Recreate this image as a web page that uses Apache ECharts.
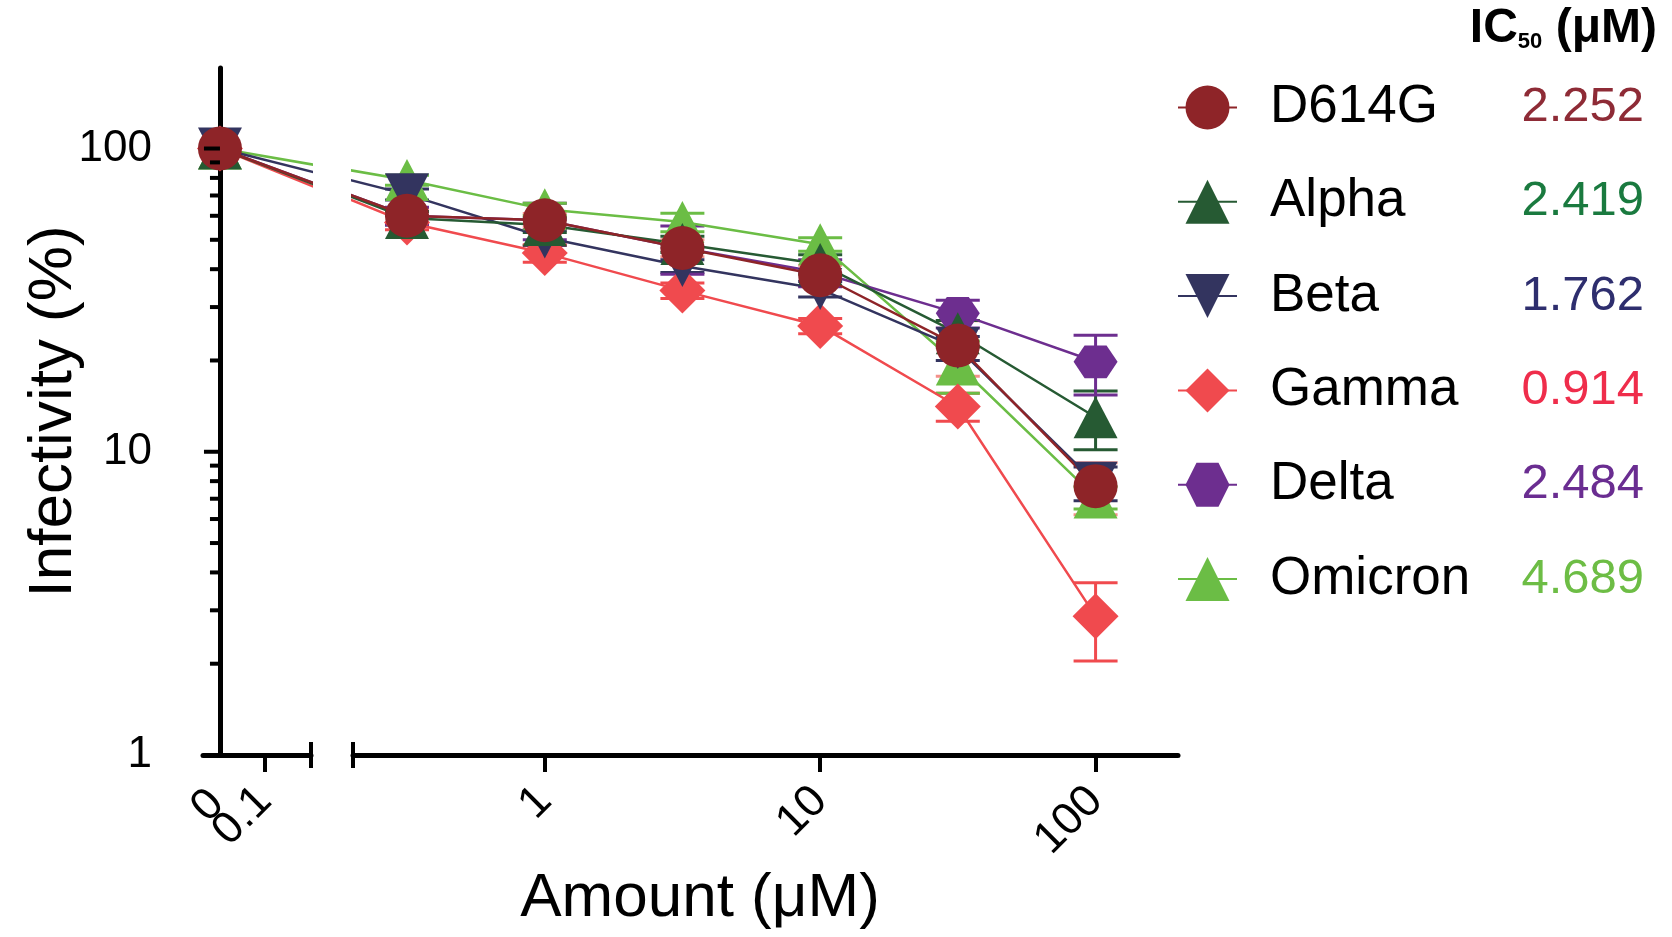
<!DOCTYPE html>
<html>
<head>
<meta charset="utf-8">
<title>Infectivity vs amount</title>
<script src="https://cdn.jsdelivr.net/npm/echarts@6/dist/echarts.min.js"></script>
<style>
html, body { margin: 0; padding: 0; background: #fff; }
#chart { width: 1672px; height: 937px; }
</style>
</head>
<body>
<div id="chart"></div>
<script>
// doses in uM, 0 is the untreated control shown on its own axis segment
var doses = [0, 0.316, 1, 3.16, 10, 31.6, 100];
var variants = ['D614G', 'Alpha', 'Beta', 'Gamma', 'Delta', 'Omicron'];
var ic50 = ['2.252', '2.419', '1.762', '0.914', '2.484', '4.689'];

// infectivity (%) per dose
var d614g   = [100, 60, 58, 47, 38.2, 22.4, 7.7];
var alpha   = [100, 59, 55.9, 48.4, 41.6, 24.6, 13];
var beta    = [100, 70.6, 50.9, 41, 34.4, 22, 7.9];
var gamma   = [100, 57, 45.2, 34, 26, 14.1, 2.87];
var delta   = [100, 60, 58, 47, 39, 28.6, 19.8];
var omicron = [100, 78.7, 63, 57.2, 48.3, 19.4, 7.07];

// SD per dose
var d614gErr   = [0, 3, 3, 3, 3, 4.65, 1.5];
var alphaErr   = [0, 3, 3, 3, 3, 2.5, 2.85];
var betaErr    = [0, 3, 3, 2, 2, 2, 1];
var gammaErr   = [0, 3, 3, 2, 1.5, 1.5, 0.83];
var deltaErr   = [0, 4, 8, 8.5, 4, 3, 4.4];
var omicronErr = [0, 3, 3, 4, 2.5, 3.8, 0.6];

var yTicks = [1, 10, 100];
var yMinorTicks = [2, 3, 4, 5, 6, 7, 8, 9, 20, 30, 40, 50, 60, 70, 80, 90];
var xTicks = [1, 10, 100];

var values = [d614g, alpha, beta, gamma, delta, omicron];
var errors = [d614gErr, alphaErr, betaErr, gammaErr, deltaErr, omicronErr];
var colors = ['#8e2428', '#265a33', '#33345f', '#f04a4e', '#6d2e8f', '#6bbd45'];
var errColors = ['#f4908a', '#265a33', '#33345f', '#f04a4e', '#6d2e8f', '#6bbd45'];
var textColors = ['#8e2b36', '#1a7a3f', '#2e2e6e', '#ef2d4b', '#6a2d91', '#6dbd45'];
var HEX = 'path://M0,19 L11,0 L33,0 L44,19 L33,38 L11,38 Z';
var symbols = ['circle', 'triangle', 'triangle', 'diamond', HEX, 'triangle'];
var symbolSizes = [44, [44, 42], [44, 42], [46, 46], [44, 38], [44, 42]];
var symbolRotates = [0, 0, 180, 0, 0, 0];

var FONT = 'Liberation Sans, Arial, Helvetica, sans-serif';
var ZERO_POS = 0.0688;     // where the 0 dose sits on the left log segment
var Y_MAX = 184.3;
var LEFT_MIN = 0.0597, LEFT_MAX = 0.1473;
var RIGHT_MIN = 0.2012, RIGHT_MAX = 199.2;
var X_LABEL_MARGIN = 39, X_LABEL_PAD = 41, X_LABEL_SIZE = 45;

function pts(vals, from, to) {
  var out = [];
  for (var i = from; i < to; i++) {
    out.push([doses[i] === 0 ? ZERO_POS : doses[i], vals[i]]);
  }
  return out;
}

var series = [];

// error bars under the markers
for (var k = 0; k < variants.length; k++) {
  var edata = [];
  for (var i = 1; i < doses.length; i++) {
    edata.push([doses[i], values[k][i], errors[k][i]]);
  }
  series.push({
    name: variants[k] + ' SD',
    type: 'custom',
    xAxisIndex: 1,
    yAxisIndex: 1,
    data: edata,
    silent: true,
    renderItem: (function (col) {
      return function (params, api) {
        var x = api.value(0), y = api.value(1), e = api.value(2);
        if (!e) return;
        var top = api.coord([x, y + e]);
        var bot = api.coord([x, Math.max(y - e, 0.01)]);
        var hw = 22;
        var st = { stroke: col, lineWidth: 3 };
        return {
          type: 'group',
          children: [
            { type: 'line', shape: { x1: top[0], y1: top[1], x2: bot[0], y2: bot[1] }, style: st },
            { type: 'line', shape: { x1: top[0] - hw, y1: top[1], x2: top[0] + hw, y2: top[1] }, style: st },
            { type: 'line', shape: { x1: bot[0] - hw, y1: bot[1], x2: bot[0] + hw, y2: bot[1] }, style: st }
          ]
        };
      };
    })(errColors[k])
  });
}

// drawn bottom to top: Omicron ... D614G
var drawOrder = [5, 4, 3, 2, 1, 0];
drawOrder.forEach(function (k) {
  var common = {
    name: variants[k],
    type: 'line',
    symbol: symbols[k],
    symbolSize: symbolSizes[k],
    symbolRotate: symbolRotates[k],
    symbolKeepAspect: true,
    showAllSymbol: true,
    clip: true,
    itemStyle: { color: colors[k], opacity: 1 },
    lineStyle: { color: colors[k], width: 2.5 },
    emphasis: { disabled: true }
  };
  series.push(Object.assign({}, common, { xAxisIndex: 0, yAxisIndex: 0, data: pts(values[k], 0, 2) }));
  series.push(Object.assign({}, common, { xAxisIndex: 1, yAxisIndex: 1, data: pts(values[k], 0, 7) }));
});

var rich = {
  n: { fontFamily: FONT, fontSize: 53, color: '#000', width: 222, padding: [0, 0, 0, 28] }
};
variants.forEach(function (v, i) {
  rich['v' + i] = { fontFamily: FONT, fontSize: 49, color: textColors[i], width: 152, align: 'right' };
});

var xLabel = {
  rotate: 45, margin: X_LABEL_MARGIN, padding: [X_LABEL_PAD, 0, 0, 0],
  fontSize: X_LABEL_SIZE, color: '#000', fontFamily: FONT
};

var chart = echarts.init(document.getElementById('chart'));
chart.setOption({
  animation: false,
  backgroundColor: '#fff',
  textStyle: { fontFamily: FONT },
  title: {
    right: 10,
    top: 0,
    text: '{a|IC}{s|50}{a| (μM)}',
    textStyle: {
      rich: {
        a: { fontFamily: FONT, fontSize: 48, fontWeight: 'bold', color: '#000' },
        s: { fontFamily: FONT, fontSize: 22, fontWeight: 'bold', color: '#000', verticalAlign: 'bottom' }
      }
    }
  },
  legend: {
    orient: 'vertical',
    left: 1172,
    top: 76,
    itemWidth: 59,
    itemHeight: 55,
    itemGap: 41.3,
    selectedMode: false,
    data: variants,
    lineStyle: { width: 2 },
    formatter: function (name) {
      var i = variants.indexOf(name);
      return '{n|' + name + '}{v' + i + '|' + ic50[i] + '}';
    },
    textStyle: { rich: rich }
  },
  grid: [
    { left: 203, right: 1672 - 311, top: 68, bottom: 937 - 755, outerBoundsMode: 'none' },
    { left: 353, right: 1672 - 1178, top: 68, bottom: 937 - 755, outerBoundsMode: 'none' }
  ],
  xAxis: [
    {
      gridIndex: 0, type: 'log', min: LEFT_MIN, max: LEFT_MAX,
      axisLine: { lineStyle: { color: '#000', width: 5 } },
      axisTick: { customValues: [0.1], length: 17, lineStyle: { color: '#000', width: 4 } },
      axisLabel: Object.assign({}, xLabel, { customValues: [0.1] }),
      splitLine: { show: false }
    },
    {
      gridIndex: 1, type: 'log', min: RIGHT_MIN, max: RIGHT_MAX,
      axisLine: { lineStyle: { color: '#000', width: 5 } },
      axisTick: { customValues: xTicks, length: 17, lineStyle: { color: '#000', width: 4 } },
      axisLabel: Object.assign({}, xLabel, { customValues: xTicks }),
      splitLine: { show: false },
      name: 'Amount (μM)',
      nameLocation: 'middle',
      nameGap: 113,
      nameMoveOverlap: false,
      nameTextStyle: { fontSize: 62, color: '#000', fontFamily: FONT, padding: [0, 131, 0, 0] }
    }
  ],
  yAxis: [
    {
      gridIndex: 0, type: 'log', position: 'left', min: 1, max: Y_MAX, offset: -17,
      axisLine: { lineStyle: { color: '#000', width: 5 } },
      axisTick: { show: false },
      axisLabel: { customValues: yTicks, margin: 68, fontSize: 44, color: '#000', fontFamily: FONT },
      splitLine: { show: false },
      name: 'Infectivity (%)',
      nameLocation: 'middle',
      nameGap: 135,
      nameMoveOverlap: false,
      nameTextStyle: { fontSize: 62, color: '#000', fontFamily: FONT }
    },
    {
      gridIndex: 1, type: 'log', min: 1, max: Y_MAX, show: false,
      splitLine: { show: false }
    }
  ],
  series: series
});

// y ticks, the "0" label under the control point, and the axis break caps,
// all placed through the axes' own scales
var yAx = chart.convertToPixel({ yAxisIndex: 0 }, 1);
var x0 = chart.convertToPixel({ xAxisIndex: 0 }, ZERO_POS);
var xa = chart.convertToPixel({ xAxisIndex: 0 }, LEFT_MAX);
var xb = chart.convertToPixel({ xAxisIndex: 1 }, RIGHT_MIN);
var gfx = [xa, xb].map(function (x) {
  return {
    type: 'line',
    shape: { x1: x, y1: yAx - 13, x2: x, y2: yAx + 13 },
    style: { stroke: '#000', lineWidth: 4 }
  };
});
function addTicks(ticks, len) {
  ticks.forEach(function (v) {
    var y = chart.convertToPixel({ yAxisIndex: 0 }, v);
    gfx.push({
      type: 'line',
      shape: { x1: x0 - len, y1: y, x2: x0, y2: y },
      style: { stroke: '#000', lineWidth: 4 },
      z: 10
    });
  });
}
addTicks(yTicks, 16);
addTicks(yMinorTicks, 10);
gfx.push({
  type: 'text',
  x: x0 - 3,
  y: yAx + X_LABEL_MARGIN + 3,
  rotation: Math.PI / 4,
  style: {
    text: '0', font: X_LABEL_SIZE + 'px ' + FONT, fill: '#000',
    align: 'right', verticalAlign: 'middle', padding: [X_LABEL_PAD - 14, 0, 0, 0]
  }
});
chart.setOption({ graphic: gfx });
</script>
</body>
</html>
